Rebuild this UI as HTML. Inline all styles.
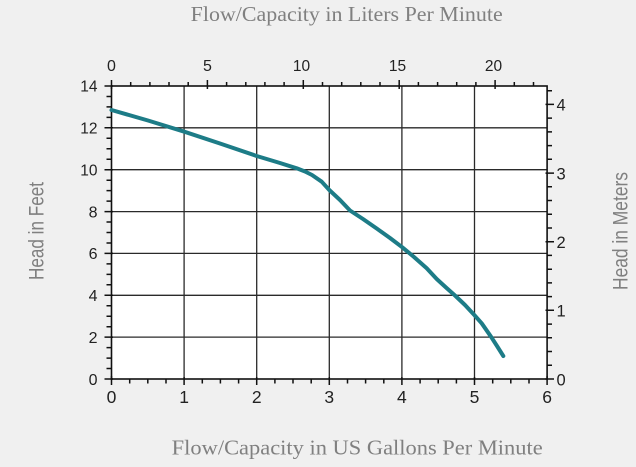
<!DOCTYPE html>
<html><head><meta charset="utf-8"><style>
html,body{margin:0;padding:0;background:#f0f0f0;}
svg{display:block;}
</style></head><body>
<svg width="636" height="467" viewBox="0 0 636 467" xmlns="http://www.w3.org/2000/svg">
<rect x="0" y="0" width="636" height="467" fill="#f0f0f0"/>
<rect x="111.5" y="86" width="435.6" height="293" fill="#ffffff"/>
<!-- grid -->
<g stroke="#2a2a2a" stroke-width="1.3" fill="none">
<path d="M184.1 86V379M256.7 86V379M329.3 86V379M401.9 86V379M474.5 86V379"/>
<path d="M111.5 337.1H547.1M111.5 295.3H547.1M111.5 253.4H547.1M111.5 211.6H547.1M111.5 169.7H547.1M111.5 127.8H547.1"/>
</g>
<!-- frame -->
<rect x="111.5" y="86" width="435.6" height="293" fill="none" stroke="#111" stroke-width="1.6"/>
<!-- ticks -->
<g stroke="#111" stroke-width="1.5" fill="none">
<path d="M130.7 86V82M149.9 86V82M169.0 86V82M188.2 86V82M226.6 86V82M245.8 86V82M264.9 86V82M284.1 86V82M322.5 86V82M341.7 86V82M360.8 86V82M380.0 86V82M418.4 86V82M437.6 86V82M456.7 86V82M475.9 86V82M514.3 86V82M533.5 86V82"/>
<path d="M111.5 89V80M207.4 89V80M303.3 89V80M399.2 89V80M495.1 89V80"/>
<path d="M111.5 368.5H106.5M111.5 358.1H106.5M111.5 347.6H106.5M111.5 326.7H106.5M111.5 316.2H106.5M111.5 305.7H106.5M111.5 284.8H106.5M111.5 274.4H106.5M111.5 263.9H106.5M111.5 243.0H106.5M111.5 232.5H106.5M111.5 222.0H106.5M111.5 201.1H106.5M111.5 190.6H106.5M111.5 180.2H106.5M111.5 159.2H106.5M111.5 148.8H106.5M111.5 138.3H106.5M111.5 117.4H106.5M111.5 106.9H106.5M111.5 96.5H106.5"/>
<path d="M113 379H104.5M113 337.1H104.5M113 295.3H104.5M113 253.4H104.5M113 211.6H104.5M113 169.7H104.5M113 127.8H104.5M113 86H104.5"/>
<path d="M129.7 379V383.5M147.8 379V383.5M166.0 379V383.5M202.3 379V383.5M220.4 379V383.5M238.6 379V383.5M274.9 379V383.5M293.0 379V383.5M311.2 379V383.5M347.5 379V383.5M365.6 379V383.5M383.8 379V383.5M420.1 379V383.5M438.2 379V383.5M456.4 379V383.5M492.7 379V383.5M510.8 379V383.5M529.0 379V383.5"/>
<path d="M111.5 376V385M184.1 377V385M256.7 377V385M329.3 377V385M401.9 377V385M474.5 377V385M547.1 376V385"/>
<path d="M547.1 365.3H552M547.1 351.5H552M547.1 337.8H552M547.1 324.1H552M547.1 296.6H552M547.1 282.9H552M547.1 269.2H552M547.1 255.4H552M547.1 228.0H552M547.1 214.2H552M547.1 200.5H552M547.1 186.8H552M547.1 159.3H552M547.1 145.6H552M547.1 131.9H552M547.1 118.1H552M547.1 90.7H552"/>
<path d="M545.5 379H554M545.5 310.3H554M545.5 241.7H554M545.5 173.1H554M545.5 104.4H554"/>
</g>
<!-- curve -->
<polyline fill="none" stroke="#1d7c87" stroke-width="4" stroke-linejoin="round" stroke-linecap="round"
points="111.5,110 148,120.5 184.3,131.7 220,143.5 256.7,156 280,163 296.7,168.3 305,171.5 312,175 321.7,181.7 329.3,190 340,200 350,210.5 363,219 376.7,228.5 390,238 402.3,247.3 414,257 426.7,268.3 436.7,279 446,287.5 455,295.5 465,305 474.3,315 481.7,323.3 491,336.7 497,346 503.3,356"/>
<!-- tick labels -->
<g font-family="'Liberation Sans', sans-serif" fill="#222">
<g font-size="16" text-anchor="end">
<text x="97.5" y="384.8">0</text>
<text x="97.5" y="342.9">2</text>
<text x="97.5" y="301.1">4</text>
<text x="97.5" y="259.2">6</text>
<text x="97.5" y="217.4">8</text>
<text x="97.5" y="175.3" font-size="15.5">10</text>
<text x="97.5" y="133.4" font-size="15.5">12</text>
<text x="97.5" y="91.6" font-size="15.5">14</text>
</g>
<g font-size="16" text-anchor="middle">
<text x="111.5" y="71">0</text>
<text x="207.4" y="71">5</text>
<text x="301.5" y="71" font-size="15.5">10</text>
<text x="397.5" y="71" font-size="15.5">15</text>
<text x="493.5" y="71" font-size="15.5">20</text>
</g>
<g font-size="17.5" text-anchor="middle">
<text x="111.5" y="402.8">0</text>
<text x="184.1" y="402.8">1</text>
<text x="256.7" y="402.8">2</text>
<text x="329.3" y="402.8">3</text>
<text x="401.9" y="402.8">4</text>
<text x="474.5" y="402.8">5</text>
<text x="547.1" y="402.8">6</text>
</g>
<g font-size="16.5">
<text x="556.5" y="385.3">0</text>
<text x="556.5" y="316.6">1</text>
<text x="556.5" y="248">2</text>
<text x="556.5" y="179.4">3</text>
<text x="556.5" y="110.7">4</text>
</g>
</g>
<!-- axis titles -->
<g fill="#808080">
<text x="190.7" y="21" font-family="'Liberation Serif', serif" font-size="21" textLength="312" lengthAdjust="spacingAndGlyphs">Flow/Capacity in Liters Per Minute</text>
<text x="171.7" y="454.3" font-family="'Liberation Serif', serif" font-size="21.5" textLength="371" lengthAdjust="spacingAndGlyphs">Flow/Capacity in US Gallons Per Minute</text>
<text transform="translate(43.5,231) rotate(-90)" text-anchor="middle" font-family="'Liberation Sans', sans-serif" font-size="21" textLength="98" lengthAdjust="spacingAndGlyphs">Head in Feet</text>
<text transform="translate(627.5,231) rotate(-90)" text-anchor="middle" font-family="'Liberation Sans', sans-serif" font-size="21" textLength="118" lengthAdjust="spacingAndGlyphs">Head in Meters</text>
</g>
</svg>
</body></html>
